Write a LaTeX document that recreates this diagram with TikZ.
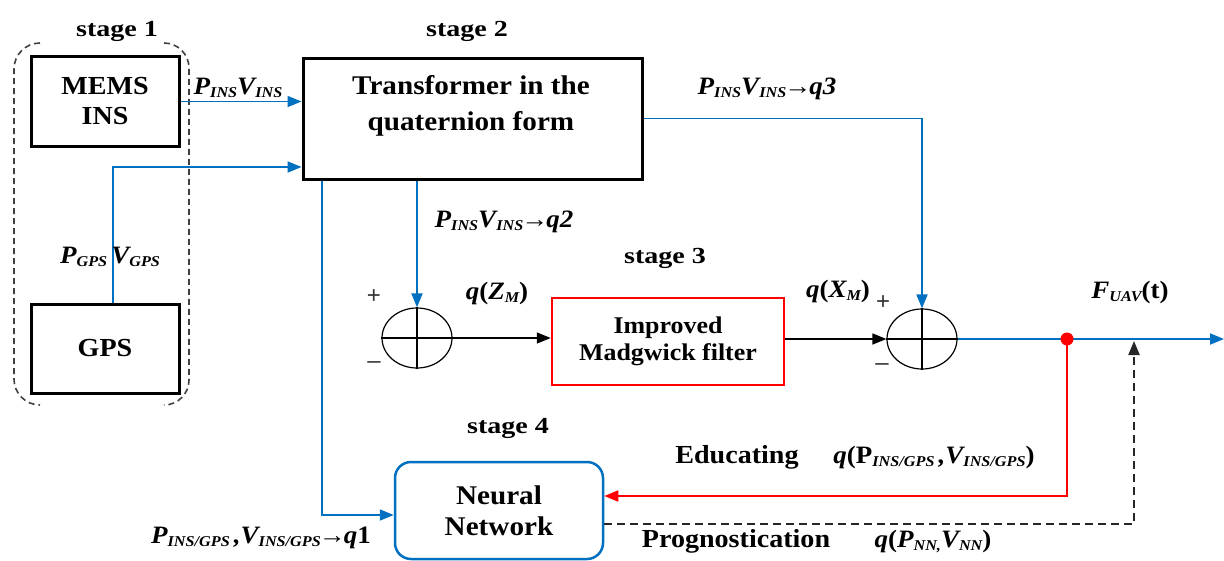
\documentclass[tikz,border=0pt]{standalone}
\usepackage{fontspec}
\setmainfont{Liberation Serif}[FakeStretch=1.08]
\newfontfamily\stagefont{Liberation Serif}[FakeStretch=1.22]
\newfontfamily\pmfont{Liberation Sans}
\usetikzlibrary{arrows.meta,shapes.geometric}
\definecolor{lblue}{RGB}{0,112,192}
\newcommand\sbs[1]{\raisebox{-3pt}{\fontsize{15}{15}\selectfont #1}}
\newcommand\arr{\kern-2pt→\kern-2pt}
\begin{document}
\begin{tikzpicture}[x=1pt,y=-1pt,
  blkbox/.style={draw=black, line width=3pt, inner sep=0pt},
  stagelbl/.style={anchor=base, font=\stagefont\fontsize{23}{26}\selectfont\bfseries, inner sep=0pt},
  lbl/.style={anchor=base, font=\fontsize{25}{28}\selectfont\bfseries\itshape, inner sep=0pt},
  wordlbl/.style={anchor=base, font=\fontsize{26}{28}\selectfont\bfseries, inner sep=0pt},
  pm/.style={font=\pmfont\fontsize{24}{24}\selectfont, text=black!80, inner sep=0pt},
  bline/.style={draw=lblue, line width=1.8pt},
  btip/.style={-{Triangle[length=14pt,width=11pt]}},
  sumnode/.style={draw=black, line width=1.2pt, ellipse, minimum width=70pt, minimum height=60pt, inner sep=0pt},
  brk/.style={draw=black!75, line width=1.6pt, dash pattern=on 6pt off 4pt}
]
\useasboundingbox (0,0) rectangle (1224,560);

% stage 1 dashed bracket
\draw[brk] (40,43) arc[start angle=-90, end angle=-180, radius=26] -- (14,379) arc[start angle=180, end angle=90, radius=26];
\draw[brk] (164,43) arc[start angle=-90, end angle=0, radius=25] -- (189,380) arc[start angle=0, end angle=90, radius=25];

% stage labels
\node[stagelbl] (st1) at (117,36) {stage 1};
\node[stagelbl] (st2) at (467,36) {stage 2};
\node[stagelbl] (st3) at (665,263) {stage 3};
\node[stagelbl] (st4) at (508,433) {stage 4};

% boxes
\node[blkbox, minimum width=148pt, minimum height=90pt, align=center,
      font=\fontsize{26}{30}\selectfont\bfseries] (mems) at (105,101.5) {MEMS\\INS};
\node[blkbox, minimum width=148pt, minimum height=89pt,
      font=\fontsize{26}{30}\selectfont\bfseries] (gps) at (105,348.5) {GPS};
\node[blkbox, minimum width=339pt, minimum height=121pt] (tr) at (472.5,118.5) {};
\node[align=center, font=\fontsize{27}{36}\selectfont\bfseries, inner sep=0pt] (trt) at (471,106) {Transformer in the\\quaternion form};
\node[draw=red, line width=2.5pt, minimum width=232pt, minimum height=87pt, inner sep=0pt, align=center,
      font=\fontsize{24}{27}\selectfont\bfseries] (mad) at (668,341.5) {Improved\\Madgwick filter};
\node[draw=lblue, line width=2.5pt, rounded corners=16pt, minimum width=208pt, minimum height=97pt, inner sep=0pt, align=center,
      font=\fontsize{27}{31}\selectfont\bfseries] (nn) at (499,510.5) {Neural\\Network};

% summing junctions
\node[sumnode] (sa) at (417,338) {};
\draw[line width=1.2pt] (sa.north) -- (sa.south) (sa.west) -- (sa.east);
\node[sumnode] (sb) at (922,339) {};
\draw[line width=1.2pt] (sb.north) -- (sb.south) (sb.west) -- (sb.east);
\node[pm] (pa) at (374,297) {+};
\node[pm] (ma) at (374,365) {\textendash};
\node[pm] (pb) at (883,303) {+};
\node[pm] (mb) at (882,367) {\textendash};

% coordinates for kinks
\coordinate (kg) at (113,167);
\coordinate (kn) at (322,515);
\coordinate (kr) at (0,496);
\coordinate (kd) at (1134,524);
\coordinate (kdt) at (1134,341);
\coordinate (kout) at (1224,339);

% blue connectors
\draw[bline, btip] (mems.east) -- (tr.west |- mems.east);
\draw[bline, btip] (gps.north -| kg) -- (kg) -- (tr.west |- kg);
\draw[bline, btip] (tr.south -| sa.north) -- (sa.north);
\draw[bline, btip] (tr.east) -| (sb.north);
\draw[bline, btip] (kn |- tr.south) -- (kn) -- (nn.west |- kn);
\draw[bline, btip] (sb.east) -- (kout);

% black connectors
\draw[line width=1.4pt, btip] (sa.east) -- (mad.west |- sa.east);
\draw[line width=1.4pt, btip] (mad.east |- sb.west) -- (sb.west);

% red feedback
\node[circle, fill=red, minimum size=13pt, inner sep=0pt] (dot) at (1067,339) {};
\draw[draw=red, line width=1.8pt, btip] (dot.center) -- (dot.center |- kr) -- (nn.east |- kr);

% dashed prognostication
\draw[line width=2.2pt, dash pattern=on 8pt off 5pt, draw=black!85, btip] (nn.east |- kd) -- (kd) -- (kdt);

% labels
\node[lbl] (l1) at (238,94) {P\sbs{INS}V\sbs{INS}};
\node[lbl] (l2) at (110,263) {P\sbs{GPS}\,V\sbs{GPS}};
\node[lbl] (l3) at (767,94) {P\sbs{INS}V\sbs{INS}\arr q3};
\node[lbl] (l4) at (504,227) {P\sbs{INS}V\sbs{INS}\arr q2};
\node[lbl] (l5) at (497,299) {q{\upshape(}Z\sbs{M}{\upshape)}};
\node[lbl] (l6) at (838,297) {q{\upshape(}X\sbs{M}{\upshape)}};
\node[lbl] (l7) at (1130,298) {F\sbs{UAV}{\upshape(t)}};
\node[wordlbl] (l8) at (737,463) {Educating};
\node[lbl] (l9) at (934,463) {q{\upshape(P}\sbs{INS/GPS}\,,V\sbs{INS/GPS}{\upshape)}};
\node[wordlbl] (l10) at (736,547) {Prognostication};
\node[lbl] (l11) at (933,547) {q{\upshape(}P\sbs{NN,}V\sbs{NN}{\upshape)}};
\node[lbl] (l12) at (261,543) {P\sbs{INS/GPS}\,,V\sbs{INS/GPS}\arr q{\upshape 1}};
\end{tikzpicture}
\end{document}
